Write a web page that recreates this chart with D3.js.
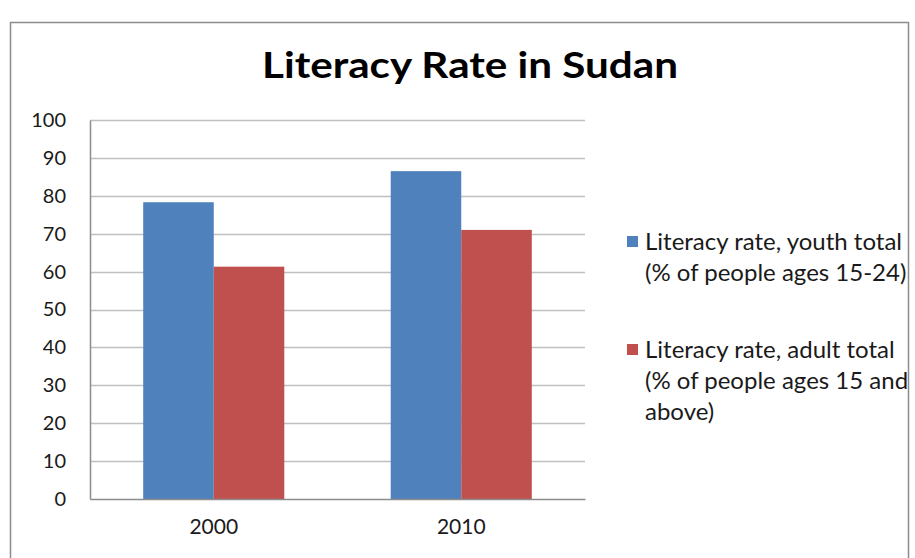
<!DOCTYPE html>
<html>
<head>
<meta charset="utf-8">
<script src="https://cdn.jsdelivr.net/npm/d3@7"></script>
<style>
	body{margin:0;background:#fff;}
	svg{display:block;font-family:Lato,'Open Sans',sans-serif;}
</style>
</head>
<body>
<svg id="chart" width="915" height="558"></svg>
<script>
// data
var years = ['2000','2010'];
var seriesNames = ['youth','adult'];
var youthRate = [78.3, 86.5];
var adultRate = [61.3, 71.0];
var yTicks = [0,10,20,30,40,50,60,70,80,90,100];
var legendLines = [
	['Literacy rate, youth total','(% of people ages 15-24)'],
	['Literacy rate, adult total','(% of people ages 15 and','above)']
];

var config = {
	left:90, right:585, top:120, bottom:499,
	colors:['#4f81bd','#c0504d']
};

var svg = d3.select('#chart');

// outer frame
svg.append('path')
	.attr('d','M10.5,558 V22.5 H908.5 V558')
	.attr('fill','none')
	.attr('stroke','#8c8c8c')
	.attr('stroke-width',1.5);

svg.append('text')
	.text('Literacy Rate in Sudan')
	.attr('x',470)
	.attr('y',78)
	.attr('text-anchor','middle')
	.attr('font-size',37)
	.attr('font-weight','bold')
	.attr('textLength',416)
	.attr('lengthAdjust','spacingAndGlyphs')
	.attr('fill','#000');

var xScale = d3.scaleBand()
	.domain(years)
	.range([config.left,config.right])
	.paddingInner(0.43)
	.paddingOuter(0.215);

var subScale = d3.scaleBand()
	.domain(seriesNames)
	.range([0,xScale.bandwidth()]);

var yScale = d3.scaleLinear()
	.domain([0,100])
	.range([config.bottom,config.top]);

// gridlines
svg.append('g')
	.selectAll('line')
	.data(yTicks.slice(1))
	.enter()
	.append('line')
	.attr('x1',config.left)
	.attr('x2',config.right)
	.attr('y1',d=>Math.round(yScale(d))+0.5)
	.attr('y2',d=>Math.round(yScale(d))+0.5)
	.attr('stroke','#c0c0c0')
	.attr('stroke-width',1.5);

// y axis
var yAxis = svg.append('g')
	.attr('transform','translate('+config.left+',0)')
	.call(d3.axisLeft(yScale).tickValues(yTicks).tickSize(0).tickPadding(24));
yAxis.select('.domain').attr('stroke','#8c8c8c').attr('stroke-width',1.5);
yAxis.selectAll('text')
	.attr('font-size',20)
	.attr('font-family','Lato,sans-serif')
	.attr('fill','#1a1a1a');

// bars
var groups = svg.append('g')
	.selectAll('g')
	.data(years.map((y,i)=>({year:y, values:[youthRate[i],adultRate[i]]})))
	.enter()
	.append('g')
	.attr('transform',d=>'translate('+xScale(d.year)+',0)');

groups.selectAll('rect')
	.data(d=>d.values.map((v,i)=>({name:seriesNames[i],value:v,idx:i})))
	.enter()
	.append('rect')
	.attr('x',d=>subScale(d.name))
	.attr('width',subScale.bandwidth())
	.attr('y',d=>yScale(d.value))
	.attr('height',d=>config.bottom-yScale(d.value))
	.attr('fill',d=>config.colors[d.idx]);

// x axis
var xAxis = svg.append('g')
	.attr('transform','translate(0,'+config.bottom+')')
	.call(d3.axisBottom(xScale).tickSize(0).tickPadding(20));
xAxis.select('.domain').attr('stroke','#8c8c8c').attr('stroke-width',1.5);
xAxis.selectAll('text')
	.attr('font-size',21)
	.attr('font-family','Lato,sans-serif')
	.attr('fill','#1a1a1a');

// legend
var legend = svg.append('g')
	.selectAll('g')
	.data(legendLines)
	.enter()
	.append('g')
	.attr('transform',(d,i)=>'translate(627,'+(i===0?236:344)+')');

legend.append('rect')
	.attr('width',11)
	.attr('height',11)
	.attr('fill',(d,i)=>config.colors[i]);

legend.append('text')
	.attr('font-size',24)
	.attr('fill','#1a1a1a')
	.selectAll('tspan')
	.data(d=>d)
	.enter()
	.append('tspan')
	.attr('x',18)
	.attr('y',(d,i)=>14+i*31)
	.text(d=>d);
</script>
</body>
</html>
